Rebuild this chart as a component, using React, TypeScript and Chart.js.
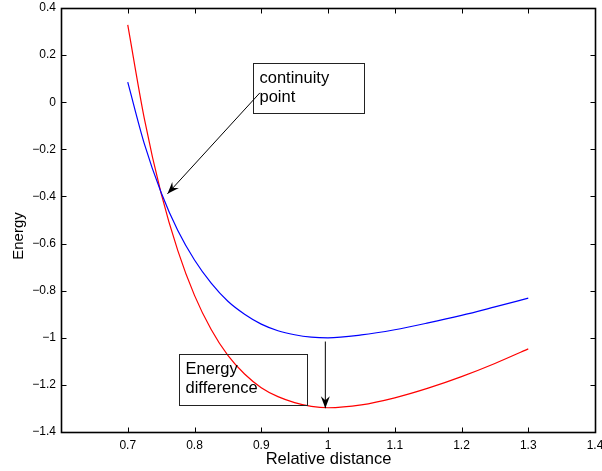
import { useEffect, useRef } from 'react';
import { Chart, registerables } from 'chart.js';
Chart.register(...registerables);

// ---- data ----
const distance = [0.70, 0.725, 0.75, 0.775, 0.80, 0.825, 0.85, 0.875, 0.90, 0.925, 0.95, 0.975, 1.00, 1.05, 1.10, 1.15, 1.20, 1.25, 1.30];
const blueEnergy = [0.085, -0.178, -0.383, -0.545, -0.67, -0.768, -0.845, -0.90, -0.942, -0.970, -0.987, -0.997, -1.0, -0.988, -0.966, -0.937, -0.905, -0.869, -0.832];
const redEnergy = [0.328, -0.072, -0.387, -0.63, -0.82, -0.965, -1.075, -1.154, -1.212, -1.25, -1.275, -1.291, -1.297, -1.285, -1.255, -1.214, -1.165, -1.109, -1.047];

const xTicks = [0.7, 0.8, 0.9, 1.0, 1.1, 1.2, 1.3, 1.4];
const yTicks = [0.4, 0.2, 0, -0.2, -0.4, -0.6, -0.8, -1.0, -1.2, -1.4];
const xRange = [0.6, 1.4];
const yRange = [-1.4, 0.4];

const xTitle = 'Relative distance';
const yTitle = 'Energy';

// annotation boxes / arrows in data units
const boxLines = [['continuity', 'point'], ['Energy', 'difference']];
const boxCorners = [
  [0.8876, 0.168, 1.0533, -0.047],
  [0.7763, -1.0686, 0.9684, -1.285],
];
const arrowPoints = [
  [0.898, 0.04, 0.7595, -0.389],
  [0.996, -1.016, 0.996, -1.299],
];

const FONT = '"Liberation Sans", Arial, Helvetica, sans-serif';

const fmt = (v: number) => {
  const s = String(Number(Math.abs(v).toFixed(1)));
  return v < -1e-9 ? '\u2212' + s : s;
};

const decor = {
  id: 'decor',
  afterDatasetsDraw(chart: any) {
    const { ctx, chartArea: a, scales } = chart;
    const xs = scales.x, ys = scales.y;
    const L = Math.round(a.left) + 0.5, R = Math.round(a.right) + 0.5;
    const T = Math.round(a.top) + 0.5, B = Math.round(a.bottom) + 0.5;
    ctx.save();
    const line = (x1: number, y1: number, x2: number, y2: number) => {
      ctx.beginPath(); ctx.moveTo(x1, y1); ctx.lineTo(x2, y2); ctx.stroke();
    };
    // ticks (inward, mirrored)
    ctx.strokeStyle = '#000';
    ctx.lineWidth = 1;
    for (const v of xTicks) {
      const px = Math.round(xs.getPixelForValue(v)) + 0.5;
      line(px, B, px, B - 5);
      line(px, T, px, T + 5);
    }
    for (const v of yTicks) {
      const py = Math.round(ys.getPixelForValue(v)) + 0.5;
      line(L, py, L + 5, py);
      line(R, py, R - 5, py);
    }
    // frame
    ctx.lineWidth = 1.6;
    ctx.strokeRect(L, T, R - L, B - T);

    // boxes with text
    ctx.lineWidth = 1;
    ctx.strokeStyle = '#222';
    ctx.fillStyle = '#000';
    ctx.font = '16.5px ' + FONT;
    ctx.textBaseline = 'middle';
    ctx.textAlign = 'left';
    boxCorners.forEach((c, i) => {
      const x0 = Math.round(xs.getPixelForValue(c[0])) + 0.5;
      const y0 = Math.round(ys.getPixelForValue(c[1])) + 0.5;
      const x1 = Math.round(xs.getPixelForValue(c[2])) + 0.5;
      const y1 = Math.round(ys.getPixelForValue(c[3])) + 0.5;
      ctx.strokeRect(x0, y0, x1 - x0, y1 - y0);
      boxLines[i].forEach((t, k) => {
        ctx.fillText(t, x0 + 6, y0 + 15 + k * 18.5);
      });
    });

    // arrows
    ctx.strokeStyle = '#000';
    ctx.fillStyle = '#000';
    arrowPoints.forEach((p) => {
      const x1 = xs.getPixelForValue(p[0]), y1 = ys.getPixelForValue(p[1]);
      const x2 = xs.getPixelForValue(p[2]), y2 = ys.getPixelForValue(p[3]);
      ctx.lineWidth = 1;
      line(x1, y1, x2, y2);
      const ang = Math.atan2(y2 - y1, x2 - x1);
      const len = 12, half = 4.5, back = 8;
      const cx = Math.cos(ang), sx = Math.sin(ang);
      const bx = x2 - cx * len, by = y2 - sx * len;
      const nx = x2 - cx * back, ny = y2 - sx * back;
      ctx.beginPath();
      ctx.moveTo(x2, y2);
      ctx.lineTo(bx - sx * half, by + cx * half);
      ctx.lineTo(nx, ny);
      ctx.lineTo(bx + sx * half, by - cx * half);
      ctx.closePath();
      ctx.fill();
    });

    // axis titles
    ctx.fillStyle = '#000';
    ctx.font = '16.5px ' + FONT;
    ctx.textAlign = 'center';
    ctx.textBaseline = 'middle';
    ctx.fillText(xTitle, (a.left + a.right) / 2 + 0.5, a.bottom + 27);
    ctx.font = '15px ' + FONT;
    ctx.save();
    ctx.translate(a.left - 42, (a.top + a.bottom) / 2 + 16);
    ctx.rotate(-Math.PI / 2);
    ctx.fillText(yTitle, 0, 0);
    ctx.restore();

    ctx.restore();
  },
};

export default function App() {
  const ref = useRef<HTMLCanvasElement | null>(null);
  useEffect(() => {
    if (!ref.current) return;
    const chart = new Chart(ref.current, {
      type: 'line',
      data: {
        datasets: [
          {
            label: 'blue',
            data: distance.map((d, i) => ({ x: d, y: blueEnergy[i] })),
            borderColor: '#0000ff',
            borderWidth: 1.2,
            pointRadius: 0,
            cubicInterpolationMode: 'monotone',
            fill: false,
          },
          {
            label: 'red',
            data: distance.map((d, i) => ({ x: d, y: redEnergy[i] })),
            borderColor: '#ff0000',
            borderWidth: 1.2,
            pointRadius: 0,
            cubicInterpolationMode: 'monotone',
            fill: false,
          },
        ],
      },
      options: {
        animation: false,
        responsive: false,
        maintainAspectRatio: false,
        layout: { padding: { top: 8, right: 7, left: 0, bottom: 0 } },
        plugins: { legend: { display: false }, tooltip: { enabled: false } },
        scales: {
          x: {
            type: 'linear',
            min: xRange[0],
            max: xRange[1],
            grid: { display: false, drawTicks: false },
            border: { display: false },
            afterBuildTicks: (s: any) => { s.ticks = xTicks.map((v) => ({ value: v })); },
            afterFit: (s: any) => { s.height = 39; s.paddingLeft = 0; s.paddingRight = 0; },
            ticks: {
              maxRotation: 0,
              autoSkip: false,
              padding: 6,
              color: '#000',
              font: { family: FONT, size: 12 },
              callback: (v: any) => fmt(Number(v)),
            },
          },
          y: {
            type: 'linear',
            min: yRange[0],
            max: yRange[1],
            grid: { display: false, drawTicks: false },
            border: { display: false },
            afterBuildTicks: (s: any) => { s.ticks = yTicks.map((v) => ({ value: v })); },
            afterFit: (s: any) => { s.width = 61; s.paddingTop = 0; s.paddingBottom = 0; },
            ticks: {
              autoSkip: false,
              padding: 5,
              color: '#000',
              font: { family: FONT, size: 12 },
              callback: (v: any) => fmt(Number(v)),
            },
          },
        },
      },
      plugins: [decor],
    } as any);
    return () => chart.destroy();
  }, []);
  return (
    <div style={{ position: 'fixed', left: 0, top: 0, width: 602, height: 471, background: '#fff' }}>
      <canvas ref={ref} width={602} height={471} style={{ width: 602, height: 471 }} />
    </div>
  );
}
